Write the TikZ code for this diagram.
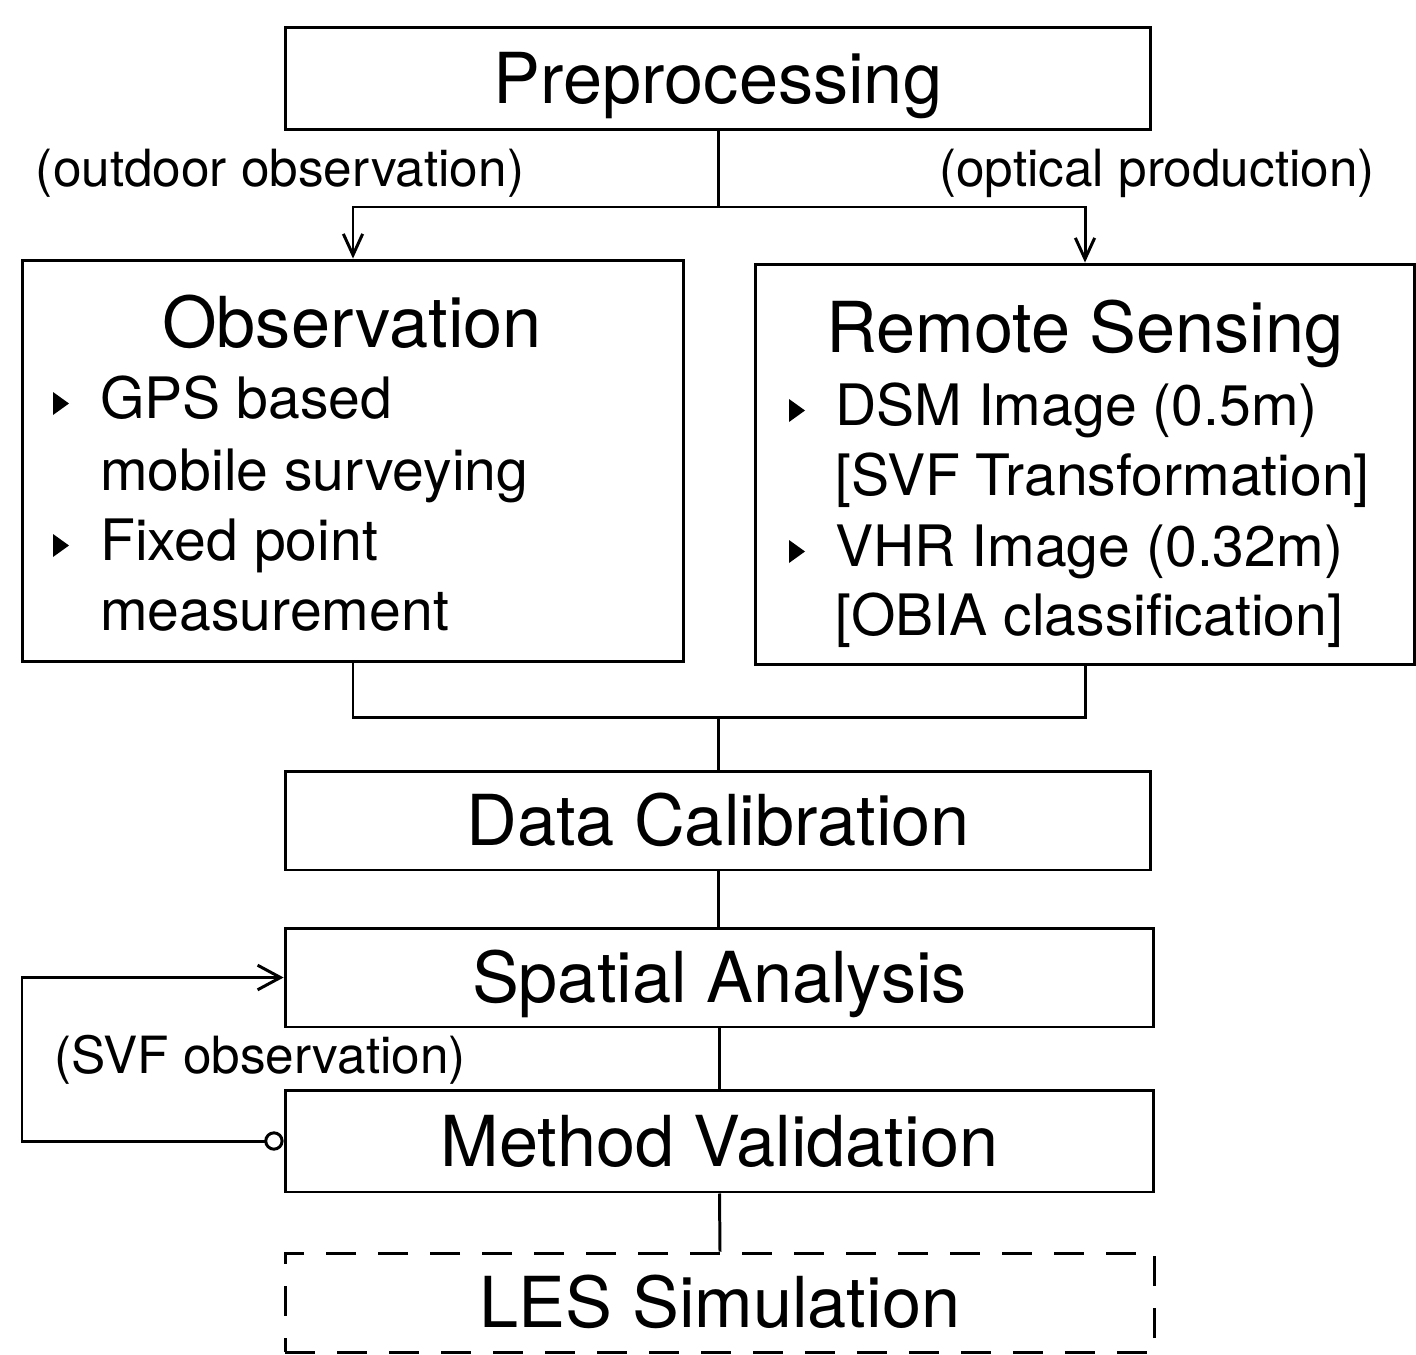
\documentclass[tikz,border=0pt]{standalone}
\usepackage{fontspec}
\setmainfont{TeX Gyre Heros}
\usetikzlibrary{arrows.meta}
\tikzset{
  box/.style={draw, line width=1.7pt, inner sep=0pt, text height=1.0cm, text depth=0pt,
    font=\fontsize{40}{48}\selectfont},
  title/.style={anchor=base, inner sep=0pt, font=\fontsize{40}{48}\selectfont},
  item/.style={anchor=base west, inner sep=0pt, font=\fontsize{32.5}{39}\selectfont},
  lab/.style={anchor=base, inner sep=0pt, font=\fontsize{29.2}{34}\selectfont},
  conn/.style={line width=1.7pt},
  arr/.style={conn, -{Straight Barb[length=12pt,width=11pt,line width=1.7pt]}},
  loop/.style={conn, {Circle[open,length=11pt,line width=1.7pt]}-{Straight Barb[length=13pt,width=14pt,line width=1.7pt]}},
}
\newcommand{\bul}[2]{\fill (#1-8,#2-26) -- (#1+8,#2-14.5) -- (#1-8,#2-3) -- cycle;}
\begin{document}
\begin{tikzpicture}[x=0.02cm,y=-0.02cm]
\useasboundingbox (0,0) rectangle (1416,1355);

\node[box, minimum width=17.3cm, minimum height=2.06cm] (pre) at (718,78.5) {Preprocessing};
\node[draw, line width=1.7pt, minimum width=13.24cm, minimum height=8.04cm, inner sep=0pt] (obs) at (353,461) {};
\node[draw, line width=1.7pt, minimum width=13.18cm, minimum height=8.02cm, inner sep=0pt] (rs) at (1085,464.5) {};
\node[box, minimum width=17.3cm, minimum height=1.98cm] (cal) at (718,820.5) {Data Calibration};
\node[box, minimum width=17.38cm, minimum height=1.98cm] (spa) at (719.5,977.5) {Spatial Analysis};
\node[box, minimum width=17.38cm, minimum height=2.04cm] (val) at (719.5,1141) {Method Validation};
\node[box, dash pattern=on 0.6cm off 0.44cm, minimum width=17.4cm, minimum height=1.98cm] (les) at (720,1302.5) {LES Simulation};

% Observation contents
\node[title] (obst) at (352,347) {Observation};
\bul{61}{418}
\node[item] (o1) at (100,418) {GPS based};
\node[item] (o2) at (100,490) {mobile surveying};
\bul{61}{560}
\node[item] (o3) at (100,560) {Fixed point};
\node[item] (o4) at (100,630) {measurement};

% Remote sensing contents
\node[title] (rst) at (1085,352) {Remote Sensing};
\bul{797}{425}
\node[item] (r1) at (835,425) {DSM Image (0.5m)};
\node[item] (r2) at (835,495) {[SVF Transformation]};
\bul{797}{566}
\node[item] (r3) at (835,566) {VHR Image (0.32m)};
\node[item] (r4) at (835,635) {[OBIA classification]};

% labels
\node[lab] (l1) at (280,186) {(outdoor observation)};
\node[lab] (l2) at (1157,186) {(optical production)};
\node[lab] (l3) at (260,1073) {(SVF observation)};

% connectors
\coordinate (split) at (718,207);
\coordinate (merge) at (718,717);
\coordinate (lb) at (22,1141);
\coordinate (lt) at (22,977.5);
\draw[conn] (pre.south) -- (split);
\draw[arr] (split) -| (obs.north);
\draw[arr] (split) -| (rs.north);
\draw[conn] (obs.south) |- (merge) -| (rs.south);
\draw[conn] (merge) -- (cal.north);
\draw[conn] (cal.south) -- (spa.north -| cal.south);
\draw[conn] (spa.south) -- (val.north);
\draw[conn] (val.south) -- (les.north);
\draw[loop] (val.west) -- (lb) -- (lt) -- (spa.west);
\end{tikzpicture}
\end{document}
